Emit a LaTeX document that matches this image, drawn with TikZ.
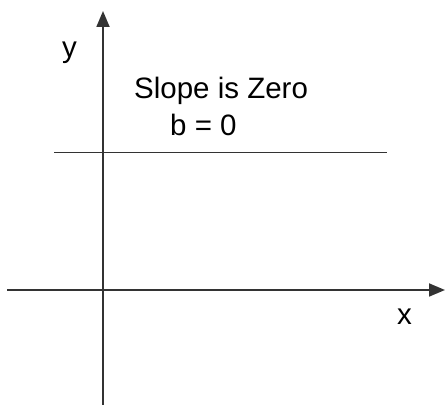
\documentclass[tikz,border=0pt]{standalone}
\usepackage{fontspec}
\setmainfont{Liberation Sans}
\usetikzlibrary{arrows.meta}

\begin{document}
\begin{tikzpicture}[
  x=1pt, y=-1pt,
  font=\fontsize{29.5}{34}\selectfont,
  axis/.style={line width=1.8pt, draw=black!80},
  arrow/.style={axis, -{Triangle[length=16pt, width=13pt]}},
  label/.style={anchor=base west, inner sep=0pt}
]
\useasboundingbox (0,0) rectangle (445,406);

% Axes and the horizontal line
\coordinate (xstart) at (7,290);
\coordinate (xend)   at (445,290);
\coordinate (ystart) at (103,405);
\coordinate (yend)   at (103,11);
\coordinate (hstart) at (54,152.5);
\coordinate (hend)   at (386.5,152.5);

\draw[arrow] (xstart) -- (xend);
\draw[arrow] (ystart) -- (yend);
\draw[axis]  (hstart) -- (hend);

% Labels
\node[label] (ylab)  at (62,58)   {y};
\node[label] (xlab)  at (397,325) {x};
\node[label] (slope) at (134,99)  {Slope is Zero};
\node[label] (bval)  at (170,136) {b = 0};

\end{tikzpicture}
\end{document}
